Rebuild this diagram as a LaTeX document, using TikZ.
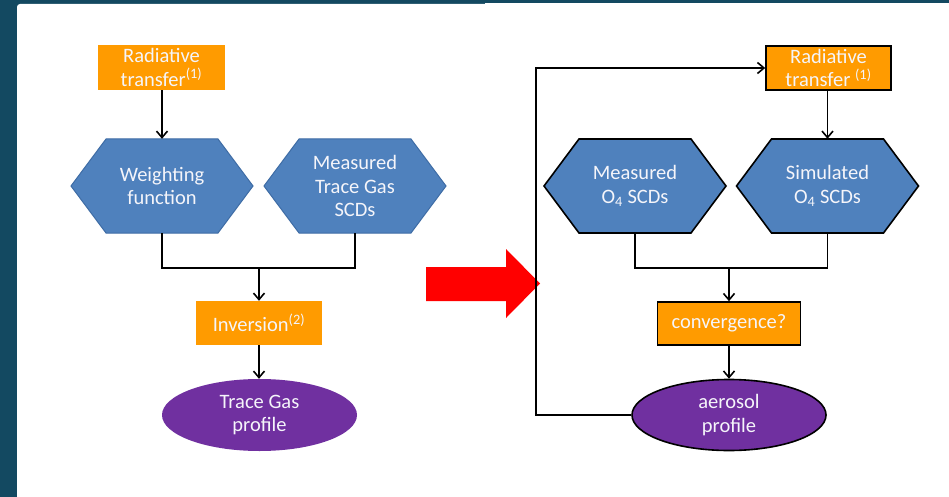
\documentclass[tikz,border=0pt]{standalone}
\usepackage{fontspec}
\setmainfont{Carlito}
\usetikzlibrary{arrows.meta,shapes.geometric}
\definecolor{bgteal}{RGB}{19,73,97}
\definecolor{orng}{RGB}{255,155,0}
\definecolor{hexblue}{RGB}{79,129,189}
\definecolor{hexedge}{RGB}{62,108,165}
\definecolor{purp}{RGB}{112,48,160}
\definecolor{txtw}{RGB}{245,245,250}
\newcommand\drawhex[3]{%
  \path[#3] (#1-91,#2) -- (#1-56,#2-47) -- (#1+56,#2-47) -- (#1+91,#2)
    -- (#1+56,#2+47) -- (#1-56,#2+47) -- cycle;}
\begin{document}
\begin{tikzpicture}[x=1pt,y=-1pt,
  lbl/.style={text=txtw, font=\fontsize{20.5}{23.3}\selectfont, align=center, inner sep=0pt},
  obox/.style={lbl, fill=orng},
  hexlbl/.style={lbl, minimum width=182pt, minimum height=94pt},
  ell/.style={lbl, ellipse, fill=purp},
  blk/.style={draw=black, line width=1.6pt},
  wire/.style={line width=1.7pt, draw=black},
  conn/.style={wire, -{Straight Barb[length=6.5pt,width=11pt,line width=1.6pt]}}
]
\useasboundingbox (0,0) rectangle (949,497);
\clip (0,0) rectangle (949,497);
% background
\fill[bgteal] (0,0) rectangle (949,497);
\fill[white] (485,3) rectangle (949,497);
\fill[white, rounded corners=3pt] (17,4) rectangle (490,510);

% ---------- left flow ----------
\node[obox, minimum width=127pt, minimum height=45pt] (lrt) at (161.5,67.5) {Radiative\\transfer\textsuperscript{(1)}};
\drawhex{162}{186}{fill=hexblue, draw=hexedge, line width=1pt}
\node[hexlbl] (wf) at (162,186) {Weighting\\function};
\drawhex{355}{186}{fill=hexblue, draw=hexedge, line width=1pt}
\node[hexlbl] (mtg) at (355,186) {Measured\\Trace Gas\\SCDs};
\coordinate (ljn) at (259,268);
\node[obox, minimum width=126pt, minimum height=44pt] (inv) at (259,323) {Inversion\textsuperscript{(2)}};
\node[ell, minimum width=195pt, minimum height=72pt] (tgp) at (259.5,415) {Trace Gas\\profile};

\draw[conn] (lrt.south -| wf.north) -- (wf.north);
\draw[wire] (wf.south) |- (ljn);
\draw[wire] (mtg.south) |- (ljn);
\draw[conn] (ljn) -- (ljn |- inv.north);
\draw[conn] (inv.south) -- (inv.south |- tgp.north);

% ---------- red arrow ----------
\fill[red] (426,267) -- (506,267) -- (506,249) -- (540,283.5) -- (506,318) -- (506,301) -- (426,301) -- cycle;

% ---------- right flow ----------
\node[obox, blk, minimum width=125pt, minimum height=44pt] (rrt) at (828.5,68) {Radiative\\transfer \textsuperscript{(1)}};
\drawhex{635}{186}{fill=hexblue, blk}
\node[hexlbl] (mo4) at (635,186) {Measured\\O\textsubscript{4} SCDs};
\drawhex{827.5}{186}{fill=hexblue, blk}
\node[hexlbl] (so4) at (827.5,186) {Simulated\\O\textsubscript{4} SCDs};
\coordinate (rjn) at (729,268);
\node[obox, blk, minimum width=143pt, minimum height=43pt] (conv) at (729,323.5) {convergence?};
\node[ell, blk, minimum width=194pt, minimum height=71pt] (aer) at (729,415) {aerosol\\profile};
\coordinate (loop) at (536,415);

\draw[conn] (rrt.south -| so4.north) -- (so4.north);
\draw[wire] (mo4.south) |- (rjn);
\draw[wire] (so4.south) |- (rjn);
\draw[conn] (rjn) -- (rjn |- conv.north);
\draw[conn] (conv.south) -- (conv.south |- aer.north);
\draw[conn] (aer.west) -- (loop) |- (rrt.west);
\end{tikzpicture}
\end{document}
